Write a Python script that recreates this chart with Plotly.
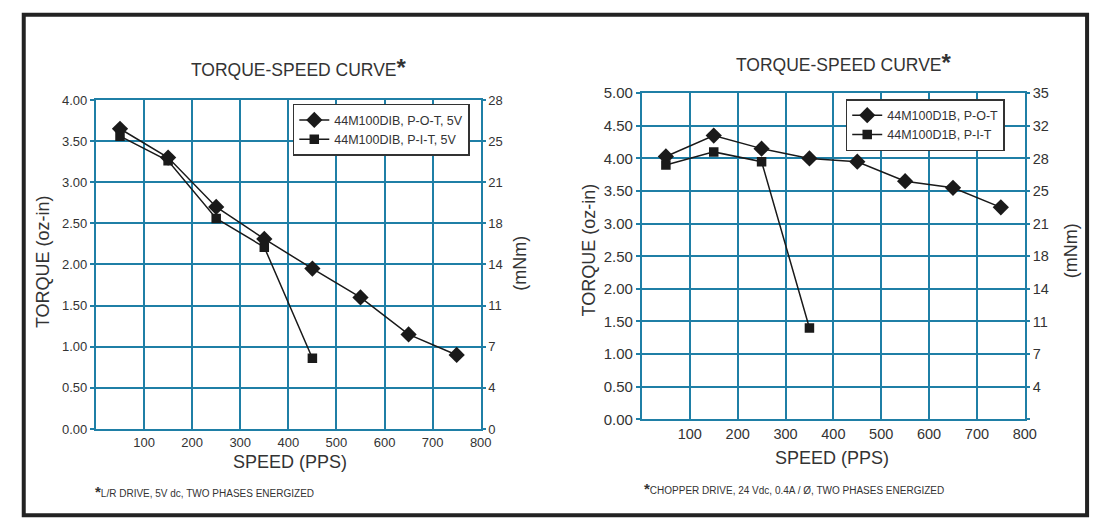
import plotly.graph_objects as go

W, H = 1106, 527

# ---- data ----
speed_left = [50, 150, 250, 350, 450, 550, 650, 750]
pot_left = [3.65, 3.30, 2.70, 2.31, 1.95, 1.60, 1.15, 0.90]
speed_left_pit = [50, 150, 250, 350, 450]
pit_left = [3.56, 3.26, 2.56, 2.21, 0.86]

speed_right = [50, 150, 250, 350, 450, 550, 650, 750]
pot_right = [4.03, 4.35, 4.15, 4.00, 3.95, 3.65, 3.55, 3.25]
speed_right_pit = [50, 150, 250, 350]
pit_right = [3.90, 4.10, 3.95, 1.40]

x_ticks = [100, 200, 300, 400, 500, 600, 700, 800]
left_y_ticks = [0, 0.5, 1.0, 1.5, 2.0, 2.5, 3.0, 3.5, 4.0]
left_mnm_labels = ["0", "4", "7", "11", "14", "18", "21", "25", "28"]
right_y_ticks = [0, 0.5, 1.0, 1.5, 2.0, 2.5, 3.0, 3.5, 4.0, 4.5, 5.0]
right_mnm_labels = ["", "4", "7", "11", "14", "18", "21", "25", "28", "32", "35"]

GRID = "#1f7fa6"
INK = "#1a1a1a"
TXT = "#333333"
FONT = "Liberation Sans, Arial, sans-serif"

def px(x):
    return x / W

def py(y):
    return 1 - y / H

fig = go.Figure()

def add_series(x, y, name, symbol, size, xa, ya, legend):
    fig.add_trace(go.Scatter(
        x=x, y=y, name=name, mode="lines+markers",
        line=dict(color=INK, width=1.5),
        marker=dict(symbol=symbol, size=size, color=INK),
        xaxis=xa, yaxis=ya, legend=legend, hoverinfo="skip"))

add_series(speed_left, pot_left, "44M100DIB, P-O-T, 5V", "diamond", 12.5, "x", "y", "legend")
add_series(speed_left_pit, pit_left, "44M100DIB, P-I-T, 5V", "square", 9.5, "x", "y", "legend")
add_series(speed_right, pot_right, "44M100D1B, P-O-T", "diamond", 12.5, "x2", "y3", "legend2")
add_series(speed_right_pit, pit_right, "44M100D1B, P-I-T", "square", 9.5, "x2", "y3", "legend2")
fig.add_trace(go.Scatter(x=[None], y=[None], xaxis="x", yaxis="y2", showlegend=False))
fig.add_trace(go.Scatter(x=[None], y=[None], xaxis="x2", yaxis="y4", showlegend=False))

def xax(domain, anchor, size):
    return dict(domain=domain, anchor=anchor, range=[0, 800], tickvals=x_ticks,
                showgrid=True, gridcolor=GRID, gridwidth=2, showline=True,
                linecolor=GRID, linewidth=2, mirror=True, zeroline=False,
                ticks="", tickfont=dict(family=FONT, size=size, color=TXT),
                fixedrange=True)

def yax(domain, anchor, rng, vals, size):
    return dict(domain=domain, anchor=anchor, range=rng, tickvals=vals,
                ticktext=[f"{v:.2f}" for v in vals],
                showgrid=True, gridcolor=GRID, gridwidth=2, showline=True,
                linecolor=GRID, linewidth=2, mirror=True, zeroline=False,
                ticks="outside", ticklen=4, tickcolor=GRID, tickwidth=2,
                tickfont=dict(family=FONT, size=size, color=TXT), fixedrange=True)

def y2ax(over, anchor, rng, vals, labels, size):
    return dict(overlaying=over, anchor=anchor, side="right", range=rng,
                tickvals=vals, ticktext=labels, showgrid=False,
                showline=False, zeroline=False, ticks="outside", ticklen=4,
                tickcolor=GRID, tickwidth=2,
                tickfont=dict(family=FONT, size=size, color=TXT), fixedrange=True)

ldx = [px(97), px(486)]
ldy = [py(434), py(94)]
rdx = [px(649), px(1036)]
rdy = [py(424), py(87)]

legend_common = dict(xanchor="left", yanchor="top", bgcolor="white",
                     bordercolor="#333333", borderwidth=1.5,
                     font=dict(family=FONT, size=12.5, color=TXT),
                     tracegroupgap=0, itemwidth=30)

fig.update_layout(
    width=W, height=H, margin=dict(l=0, r=0, t=0, b=0),
    paper_bgcolor="white", plot_bgcolor="white",
    font=dict(family=FONT, color=TXT),
    hovermode=False,
    xaxis=xax(ldx, "y", 13),
    yaxis=yax(ldy, "x", [0, 4], left_y_ticks, 13),
    yaxis2=y2ax("y", "x", [0, 4], left_y_ticks, left_mnm_labels, 13),
    xaxis2=xax(rdx, "y3", 14.5),
    yaxis3=yax(rdy, "x2", [0, 5], right_y_ticks, 15),
    yaxis4=y2ax("y3", "x2", [0, 5], right_y_ticks, right_mnm_labels, 14.5),
    legend=dict(x=px(296), y=py(98), **legend_common),
    legend2=dict(x=px(855), y=py(93), **legend_common),
    showlegend=True,
)

def ann(text, x, y, size, angle=0, xanchor="center"):
    fig.add_annotation(text=text, x=px(x), y=py(y), xref="paper", yref="paper",
                       showarrow=False, textangle=angle, xanchor=xanchor,
                       yanchor="middle",
                       font=dict(family=FONT, size=size, color=TXT))

star = "<span style='font-size:24px'><b>*</b></span>"
ann("TORQUE-SPEED CURVE" + star, 302, 60, 17.5)
ann("TORQUE-SPEED CURVE" + star, 853, 55, 17.5)
ann("TORQUE (oz-in)", 43, 261, 18, -90)
ann("(mNm)", 525, 263, 18, -90)
ann("TORQUE (oz-in)", 595, 249, 18, -90)
ann("(mNm)", 1083, 250, 18, -90)
ann("SPEED (PPS)", 293, 468, 18)
ann("SPEED (PPS)", 841, 464, 18)
star_s = "<span style='font-size:15px'><b>*</b></span>"
ann(star_s + "L/R DRIVE, 5V dc, TWO PHASES ENERGIZED", 94, 499, 10, xanchor="left")
ann(star_s + "CHOPPER DRIVE, 24 Vdc, 0.4A / Ø, TWO PHASES ENERGIZED", 649, 495, 10, xanchor="left")

fig.add_shape(type="rect", xref="paper", yref="paper",
              x0=px(24), x1=px(1099), y0=py(523), y1=py(6),
              line=dict(color="#222222", width=4), fillcolor="rgba(0,0,0,0)")

fig.write_html(
    "out.html",
    config={"displayModeBar": False, "staticPlot": True},
    post_script="document.body.style.margin='0';document.body.style.overflow='hidden';",
)
